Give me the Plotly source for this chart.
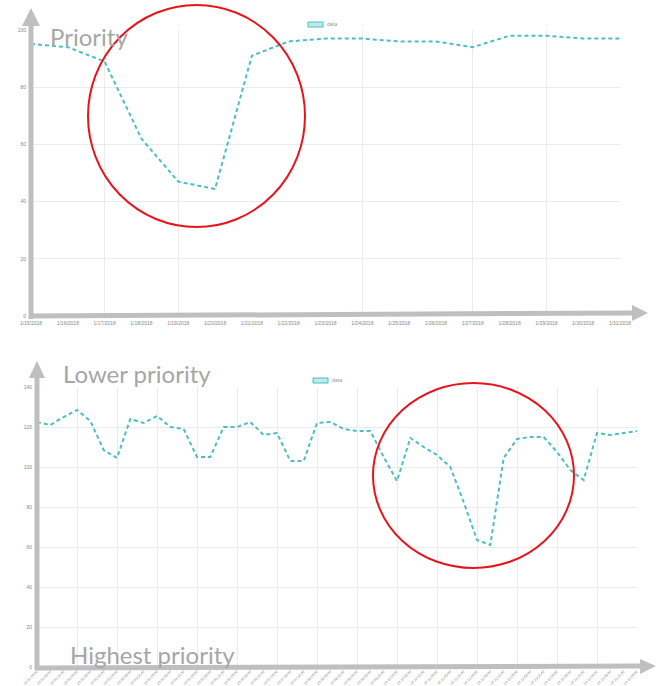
import plotly.graph_objects as go

W, H = 656, 686

# ---------------- data ----------------
top_labels = ["1/15/2018", "1/16/2018", "1/17/2018", "1/18/2018", "1/19/2018", "1/20/2018",
              "1/21/2018", "1/22/2018", "1/23/2018", "1/24/2018", "1/25/2018", "1/26/2018",
              "1/27/2018", "1/28/2018", "1/29/2018", "1/30/2018", "1/31/2018"]
top_values = [95.1, 94.0, 89.0, 62.0, 47.0, 44.4, 91.0, 96.0, 97.0, 97.0, 96.0, 96.0,
              94.0, 98.0, 98.0, 97.0, 97.0]
top_grid_idx = [2, 4, 9, 12, 14]
top_y_ticks = [0, 20, 40, 60, 80, 100]

bottom_labels = ["10-01 00:00", "10-01 08:00", "10-01 16:00", "10-02 00:00", "10-02 08:00",
                 "10-02 16:00", "10-03 00:00", "10-03 08:00", "10-03 16:00", "10-04 00:00",
                 "10-04 08:00", "10-04 16:00", "10-05 00:00", "10-05 08:00", "10-05 16:00",
                 "10-06 00:00", "10-06 08:00", "10-06 16:00", "10-07 00:00", "10-07 08:00",
                 "10-07 16:00", "10-08 00:00", "10-08 08:00", "10-08 16:00", "10-09 00:00",
                 "10-09 08:00", "10-09 16:00", "10-10 00:00", "10-10 08:00", "10-10 16:00",
                 "10-11 00:00", "10-11 08:00", "10-11 16:00", "10-12 00:00", "10-12 08:00",
                 "10-12 16:00", "10-13 00:00", "10-13 08:00", "10-13 16:00", "10-14 00:00",
                 "10-14 08:00", "10-14 16:00", "10-15 00:00", "10-15 08:00", "10-15 16:00",
                 "10-16 00:00"]
bottom_values = [122.5, 121.0, 125.0, 128.5, 123.0, 108.5, 104.5, 124.0, 122.0, 125.5,
                 120.0, 119.0, 105.0, 105.0, 120.0, 120.0, 122.5, 116.0, 117.0, 103.0,
                 103.0, 122.0, 122.5, 119.0, 118.0, 118.0, 105.0, 93.0, 114.5, 110.0,
                 106.0, 100.0, 82.5, 63.5, 61.0, 104.5, 114.0, 115.0, 115.0, 107.5,
                 98.5, 93.5, 117.0, 116.0, 117.0, 118.0]
bottom_y_ticks = [0, 20, 40, 60, 80, 100, 120, 140]

series_name = "data"
annot_top = "Priority"
annot_mid = "Lower priority"
annot_bot = "Highest priority"

# ---------------- styling helpers ----------------
TEAL = "rgb(75,192,192)"
GRID = "#ebebeb"
ARROW = "#bfbfbf"
RED = "#e8141c"
TXT = "#a6a6a6"


def px(x):
    return x / W


def py(y):
    return 1 - y / H


top_x = list(range(len(top_values)))
bot_x = list(range(len(bottom_values)))

fig = go.Figure()

line_style = dict(color=TEAL, width=2, dash="4px,3px")

fig.add_trace(go.Scatter(x=top_x, y=top_values, mode="lines", line=line_style,
                         name=series_name, xaxis="x", yaxis="y", showlegend=False))
fig.add_trace(go.Scatter(x=top_x, y=top_values, mode="lines", line=dict(width=0),
                         opacity=0, hoverinfo="skip", showlegend=False, xaxis="x3", yaxis="y"))
fig.add_trace(go.Scatter(x=bot_x, y=bottom_values, mode="lines", line=line_style,
                         name=series_name, xaxis="x2", yaxis="y2", showlegend=False))
fig.add_trace(go.Scatter(x=bot_x, y=bottom_values, mode="lines", line=dict(width=0),
                         opacity=0, hoverinfo="skip", showlegend=False, xaxis="x4", yaxis="y2"))

tickfont = dict(size=5, color="#888888", family="Liberation Sans")

top_xdom = [px(31), px(620)]
top_ydom = [py(316), py(30)]
bot_xdom = [px(37), px(637)]
bot_ydom = [py(667), py(387)]

common = dict(zeroline=False, showline=False, ticks="", automargin=False)

fig.update_layout(
    width=W, height=H,
    margin=dict(l=0, r=0, t=0, b=0, pad=0),
    paper_bgcolor="white", plot_bgcolor="white",
    showlegend=False,
    xaxis=dict(domain=top_xdom, anchor="y", range=[0, len(top_values) - 1],
               tickvals=top_x, ticktext=top_labels, tickangle=0, showgrid=False,
               tickfont=tickfont, ticklabelstandoff=3, **common),
    yaxis=dict(domain=top_ydom, anchor="x", range=[0, 100], tickvals=top_y_ticks,
               showgrid=True, gridcolor=GRID, tickfont=tickfont, ticklabelstandoff=4,
               **common),
    xaxis3=dict(overlaying="x", anchor="y", range=[0, len(top_values) - 1],
                tickvals=top_grid_idx, showticklabels=False, showgrid=True, gridcolor=GRID,
                **common),
    xaxis2=dict(domain=bot_xdom, anchor="y2", range=[0, len(bottom_values) - 1],
                tickvals=bot_x, ticktext=bottom_labels, tickangle=-45, showgrid=False,
                tickfont=dict(size=3.5, color="#888888", family="Liberation Sans"),
                ticklabelstandoff=1, **common),
    yaxis2=dict(domain=bot_ydom, anchor="x2", range=[0, 140], tickvals=bottom_y_ticks,
                showgrid=True, gridcolor=GRID, tickfont=tickfont, ticklabelstandoff=4,
                **common),
    xaxis4=dict(overlaying="x2", anchor="y2", range=[0, len(bottom_values) - 1],
                dtick=3, tick0=0, showticklabels=False, showgrid=True, gridcolor=GRID,
                **common),
)

shapes = []


def arrow_line(x0, y0, x1, y1):
    shapes.append(dict(type="line", xref="paper", yref="paper",
                       x0=px(x0), y0=py(y0), x1=px(x1), y1=py(y1),
                       line=dict(color=ARROW, width=5)))


def tri(p1, p2, p3):
    path = "M {} {} L {} {} L {} {} Z".format(px(p1[0]), py(p1[1]), px(p2[0]), py(p2[1]),
                                              px(p3[0]), py(p3[1]))
    shapes.append(dict(type="path", xref="paper", yref="paper", path=path,
                       fillcolor=ARROW, line=dict(color=ARROW, width=0)))


# top axes arrows
arrow_line(31, 319, 31, 24)
tri((31, 8), (22, 26), (40, 26))
arrow_line(29, 316, 634, 313)
tri((648, 313), (632, 305), (632, 321))
# bottom axes arrows
arrow_line(37, 670, 37, 376)
tri((37, 361), (29, 378), (45, 378))
arrow_line(35, 668, 642, 666)
tri((656, 666), (640, 659), (640, 674))

# red circles
shapes.append(dict(type="circle", xref="paper", yref="paper",
                   x0=px(88), x1=px(305), y0=py(227), y1=py(5),
                   line=dict(color=RED, width=2)))
shapes.append(dict(type="circle", xref="paper", yref="paper",
                   x0=px(373), x1=px(574), y0=py(568), y1=py(383),
                   line=dict(color=RED, width=2)))

# legend boxes (chart.js style)
for (lx, ly) in [(308, 22), (313, 378)]:
    shapes.append(dict(type="rect", xref="paper", yref="paper",
                       x0=px(lx), x1=px(lx + 15), y0=py(ly + 5), y1=py(ly),
                       fillcolor="rgba(75,192,192,0.35)", line=dict(color=TEAL, width=1)))

fig.update_layout(shapes=shapes)

annotations = []
for (lx, ly) in [(308, 22), (313, 378)]:
    annotations.append(dict(xref="paper", yref="paper", x=px(lx + 17), y=py(ly + 2.5),
                            text=series_name, showarrow=False, xanchor="left", yanchor="middle",
                            font=dict(size=5, color="#888888")))

big = dict(family="Lato", size=24, color=TXT)
annotations.append(dict(xref="paper", yref="paper", x=px(48), y=py(36), text=annot_top,
                        showarrow=False, xanchor="left", yanchor="middle", font=big))
annotations.append(dict(xref="paper", yref="paper", x=px(61), y=py(373), text=annot_mid,
                        showarrow=False, xanchor="left", yanchor="middle", font=big))
annotations.append(dict(xref="paper", yref="paper", x=px(68), y=py(654), text=annot_bot,
                        showarrow=False, xanchor="left", yanchor="middle", font=big))
fig.update_layout(annotations=annotations)

fig.write_html("out.html", config={"displayModeBar": False},
               post_script="document.body.style.margin='0';document.body.style.padding='0';")
